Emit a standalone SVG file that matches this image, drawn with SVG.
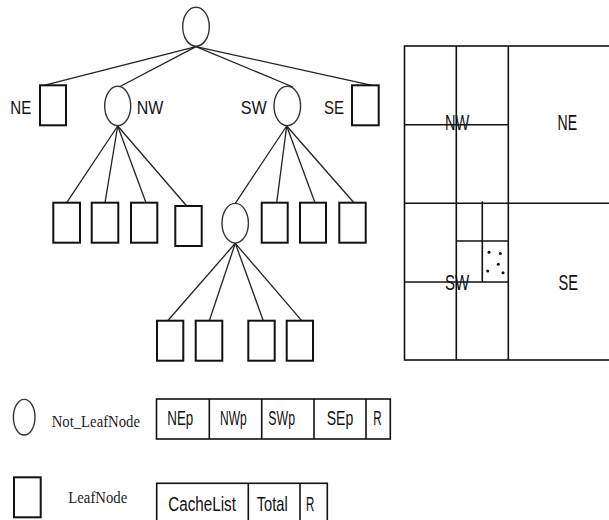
<svg xmlns="http://www.w3.org/2000/svg" width="609" height="520" viewBox="0 0 609 520">
  <style>
    .inner { fill: #fff; stroke: #333; stroke-width: 1.4; }
    .leaf { fill: #fff; stroke: #111; stroke-width: 2; }
    .edge { stroke: #222; stroke-width: 1.3; fill: none; }
    .grid { stroke: #111; stroke-width: 1.6; fill: none; }
    .cell { fill: #fff; stroke: #111; stroke-width: 1.6; }
    .lbl { font-family: "Liberation Sans", Arial, sans-serif; fill: #111; }
    .srf { font-family: "Liberation Serif", "Times New Roman", serif; fill: #222; }
    .dot { fill: #111; }
  </style>
  <rect width="609" height="520" fill="#fff"/>

  <!-- tree edges -->
  <g id="connectors" class="edge">
    <line x1="196" y1="46.7" x2="44" y2="85.3"/>
    <line x1="196" y1="46.7" x2="119" y2="87"/>
    <line x1="196" y1="46.7" x2="293" y2="87"/>
    <line x1="196" y1="46.7" x2="372" y2="85.3"/>
    <line x1="117.7" y1="126" x2="66.7" y2="202.7"/>
    <line x1="117.7" y1="126" x2="105" y2="202.7"/>
    <line x1="117.7" y1="126" x2="146" y2="202.7"/>
    <line x1="117.7" y1="126" x2="186.7" y2="206"/>
    <line x1="286.7" y1="126" x2="235.3" y2="203.3"/>
    <line x1="286.7" y1="126" x2="276.7" y2="202.7"/>
    <line x1="286.7" y1="126" x2="315" y2="202.7"/>
    <line x1="286.7" y1="126" x2="354" y2="202.7"/>
    <line x1="235.3" y1="243.3" x2="167.7" y2="320.7"/>
    <line x1="235.3" y1="243.3" x2="209.3" y2="320.7"/>
    <line x1="235.3" y1="243.3" x2="263.3" y2="320.7"/>
    <line x1="235.3" y1="243.3" x2="301.7" y2="320.7"/>
  </g>

  <!-- tree nodes (labels are horizontally condensed) -->
  <g id="root"><ellipse class="inner" cx="196" cy="26.7" rx="13.3" ry="19.5"/></g>
  <g id="ne-leaf">
    <rect class="leaf" x="40" y="85.3" width="26" height="40"/>
    <text class="lbl" font-size="19" transform="translate(10.3 114) scale(0.795 1)">NE</text>
  </g>
  <g id="nw-node">
    <ellipse class="inner" cx="117.7" cy="106" rx="13" ry="19.7"/>
    <text class="lbl" font-size="19" transform="translate(136.7 114) scale(0.84 1)">NW</text>
  </g>
  <g id="sw-node">
    <ellipse class="inner" cx="287.3" cy="106" rx="13.3" ry="19.7"/>
    <text class="lbl" font-size="19" transform="translate(240.7 114) scale(0.85 1)">SW</text>
  </g>
  <g id="se-leaf">
    <rect class="leaf" x="352" y="85.3" width="26.7" height="40"/>
    <text class="lbl" font-size="19" transform="translate(324 114) scale(0.79 1)">SE</text>
  </g>

  <g id="nw-leaf-1"><rect class="leaf" x="53.3" y="202.7" width="26.7" height="40"/></g>
  <g id="nw-leaf-2"><rect class="leaf" x="91.7" y="202.7" width="26.6" height="40"/></g>
  <g id="nw-leaf-3"><rect class="leaf" x="131" y="202.7" width="26.3" height="40"/></g>
  <g id="nw-leaf-4"><rect class="leaf" x="175.3" y="206" width="26.4" height="40"/></g>
  <g id="sw-nw-node"><ellipse class="inner" cx="235.2" cy="223.2" rx="13.2" ry="19.8"/></g>
  <g id="sw-leaf-2"><rect class="leaf" x="261.7" y="202.7" width="26" height="40"/></g>
  <g id="sw-leaf-3"><rect class="leaf" x="300" y="202.7" width="26" height="40"/></g>
  <g id="sw-leaf-4"><rect class="leaf" x="339.3" y="202.7" width="26.4" height="40"/></g>

  <g id="deep-leaf-1"><rect class="leaf" x="157" y="320.7" width="26.3" height="40"/></g>
  <g id="deep-leaf-2"><rect class="leaf" x="195.7" y="320.7" width="26.6" height="40"/></g>
  <g id="deep-leaf-3"><rect class="leaf" x="248.3" y="320.7" width="26.4" height="40"/></g>
  <g id="deep-leaf-4"><rect class="leaf" x="286.7" y="320.7" width="26.3" height="40"/></g>

  <!-- spatial partition -->
  <g id="quadrants">
    <g class="grid">
      <rect x="404.5" y="46" width="210" height="314"/>
      <line x1="456.3" y1="46" x2="456.3" y2="360"/>
      <line x1="508.3" y1="46" x2="508.3" y2="360"/>
      <line x1="404.5" y1="203.3" x2="612" y2="203.3"/>
      <line x1="404.5" y1="124.7" x2="508.3" y2="124.7"/>
      <line x1="404.5" y1="282" x2="508.3" y2="282"/>
      <line x1="482.3" y1="201.3" x2="482.3" y2="282"/>
      <line x1="456.3" y1="241" x2="508.3" y2="241"/>
    </g>
    <circle class="dot" cx="489" cy="252.3" r="1.5"/>
    <circle class="dot" cx="500.3" cy="253.5" r="1.5"/>
    <circle class="dot" cx="498.3" cy="264.3" r="1.5"/>
    <circle class="dot" cx="487.7" cy="271" r="1.5"/>
    <circle class="dot" cx="503" cy="272.7" r="1.5"/>
    <text class="lbl" font-size="22" transform="translate(445 130) scale(0.663 1)">NW</text>
    <text class="lbl" font-size="22" transform="translate(557.5 130) scale(0.64 1)">NE</text>
    <text class="lbl" font-size="22" transform="translate(445 290) scale(0.686 1)">SW</text>
    <text class="lbl" font-size="22" transform="translate(558.5 290) scale(0.665 1)">SE</text>
  </g>

  <!-- legend: internal node -->
  <g id="legend-inner">
    <ellipse class="inner" cx="24.2" cy="417.2" rx="10.8" ry="17.8"/>
    <text class="srf" font-size="17" transform="translate(51.7 426.7) scale(0.866 1)">Not_LeafNode</text>
  </g>
  <g id="inner-record">
    <rect class="cell" x="156.5" y="399" width="233.8" height="40"/>
    <g class="grid">
      <line x1="209.3" y1="399" x2="209.3" y2="439"/>
      <line x1="261.7" y1="399" x2="261.7" y2="439"/>
      <line x1="314" y1="399" x2="314" y2="439"/>
      <line x1="366" y1="399" x2="366" y2="439"/>
    </g>
    <text class="lbl" font-size="21" transform="translate(167.3 425) scale(0.637 1)">NEp</text>
    <text class="lbl" font-size="21" transform="translate(220 425) scale(0.572 1)">NWp</text>
    <text class="lbl" font-size="21" transform="translate(268.3 425) scale(0.587 1)">SWp</text>
    <text class="lbl" font-size="21" transform="translate(326.7 425) scale(0.67 1)">SEp</text>
    <text class="lbl" font-size="21" transform="translate(373.3 425) scale(0.55 1)">R</text>
  </g>

  <!-- legend: leaf node -->
  <g id="legend-leaf">
    <rect class="leaf" x="14" y="477.3" width="26.7" height="40"/>
    <text class="srf" font-size="17" transform="translate(68.3 502.7) scale(0.868 1)">LeafNode</text>
  </g>
  <g id="leaf-record">
    <rect class="cell" x="156.7" y="483.3" width="170.6" height="45"/>
    <g class="grid">
      <line x1="248.3" y1="483.3" x2="248.3" y2="528"/>
      <line x1="300" y1="483.3" x2="300" y2="528"/>
    </g>
    <text class="lbl" font-size="21" transform="translate(168.3 511) scale(0.725 1)">CacheList</text>
    <text class="lbl" font-size="21" transform="translate(256.7 511) scale(0.698 1)">Total</text>
    <text class="lbl" font-size="21" transform="translate(306 511) scale(0.546 1)">R</text>
  </g>
</svg>
